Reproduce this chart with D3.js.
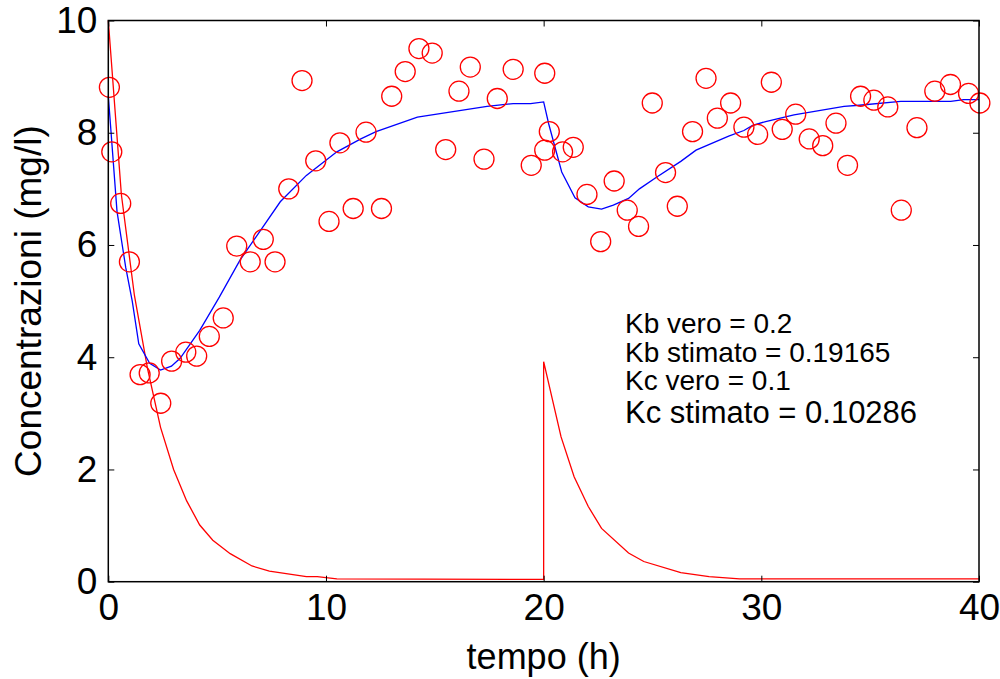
<!DOCTYPE html>
<html>
<head>
  <meta charset="UTF-8">
  <title>Concentrazioni</title>
  <script src="https://cdnjs.cloudflare.com/ajax/libs/d3/7.8.5/d3.min.js"></script>
  <style>
    body { margin: 0; background: #fff; }
    text { font-family: "Liberation Sans", Arial, sans-serif; }
  </style>
</head>
<body>
<script>
  // osservazioni (tempo h, concentrazione mg/l)
  var obsTime = [0.05, 0.16, 0.57, 0.97, 1.46, 1.88, 2.41, 2.91, 3.56, 4.06, 4.64, 5.28, 5.90, 6.52, 7.12, 7.66,
    8.29, 8.90, 9.53, 10.14, 10.64, 11.25, 11.84, 12.55, 13.02, 13.64, 14.27, 14.88, 15.50, 16.11, 16.63, 17.26,
    17.87, 18.60, 19.43, 20.05, 20.05, 20.26, 20.87, 21.36, 21.99, 22.62, 23.24, 23.84, 24.36, 24.99, 25.60, 26.14,
    26.84, 27.46, 27.98, 28.59, 29.20, 29.83, 30.46, 30.96, 31.58, 32.20, 32.82, 33.43, 33.96, 34.56, 35.17, 35.81,
    36.43, 37.15, 37.97, 38.69, 39.52, 40.04];
  var obsConc = [8.81, 7.66, 6.74, 5.70, 3.69, 3.72, 3.18, 3.93, 4.09, 4.02, 4.37, 4.70, 5.98, 5.70, 6.10, 5.70,
    7.00, 8.93, 7.50, 6.42, 7.82, 6.65, 8.01, 6.65, 8.65, 9.09, 9.50, 9.42, 7.70, 8.74, 9.17, 7.53,
    8.61, 9.13, 7.42, 9.06, 7.69, 8.02, 7.66, 7.74, 6.90, 6.06, 7.14, 6.62, 6.33, 8.53, 7.29, 6.69,
    8.02, 8.97, 8.26, 8.53, 8.10, 7.97, 8.90, 8.06, 8.33, 7.89, 7.77, 8.17, 7.42, 8.65, 8.58, 8.46,
    6.62, 8.09, 8.74, 8.86, 8.70, 8.53];

  // curva stimata (blu)
  var fitTime = [0, 0.4, 0.8, 1.1, 1.4, 1.9, 2.4, 2.9, 3.3, 4.2, 5.1, 6.05, 7.9, 9.1, 10.5, 11.6, 12.3, 14.2,
    17.4, 18.6, 19.4, 20, 20.23, 20.83, 21.44, 22.05, 22.66, 23.2, 23.9, 24.4, 25.2, 26.3, 27.0, 28.5, 29.2,
    29.6, 30.2, 31.5, 33.8, 34.5, 36.4, 38.7, 39.3, 40];
  var fitConc = [8.66, 6.6, 5.6, 5.0, 4.24, 3.89, 3.77, 3.84, 3.98, 4.48, 5.07, 5.73, 6.77, 7.24, 7.66, 7.89, 8.02, 8.28,
    8.47, 8.52, 8.52, 8.55, 8.16, 7.30, 6.84, 6.68, 6.64, 6.71, 6.83, 7.0, 7.21, 7.49, 7.69, 7.94, 8.04,
    8.13, 8.20, 8.32, 8.47, 8.49, 8.56, 8.56, 8.59, 8.59];

  // seconda curva (rossa)
  var redTime = [0, 0.6, 1.2, 1.8, 2.4, 3.0, 3.6, 4.2, 4.8, 5.6, 6.6, 7.4, 9.1, 9.6, 10.5, 20, 20, 20.8, 21.4,
    22.05, 22.66, 23.9, 24.6, 26.3, 27.6, 29, 40];
  var redConc = [10, 6.9, 5.1, 3.8, 2.75, 2.0, 1.44, 1.01, 0.74, 0.5, 0.28, 0.19, 0.09, 0.09, 0.05, 0.04, 3.92, 2.58, 1.87,
    1.34, 0.95, 0.51, 0.36, 0.16, 0.09, 0.05, 0.05];

  var xTicks = [0, 10, 20, 30, 40];
  var yTicks = [0, 2, 4, 6, 8, 10];
  var notes = ["Kb vero = 0.2", "Kb stimato = 0.19165", "Kc vero = 0.1", "Kc stimato = 0.10286"];

  var W = 1000, H = 679;
  var L = 108.3, R = 979, T = 20.5, B = 581.7;

  var svg = d3.select("body").append("svg")
    .attr("width", W).attr("height", H);

  var x = d3.scaleLinear().domain([0, 40]).range([L, R]);
  var y = d3.scaleLinear().domain([0, 10]).range([B, T]);

  function pts(ts, vs) { return ts.map(function(t, i) { return [t, vs[i]]; }); }
  var line = d3.line().x(function(d) { return x(d[0]); }).y(function(d) { return y(d[1]); });

  // curve
  svg.append("path").datum(pts(redTime, redConc))
    .attr("d", line).attr("fill", "none").attr("stroke", "#ff0000").attr("stroke-width", 1.3);
  svg.append("path").datum(pts(fitTime, fitConc))
    .attr("d", line).attr("fill", "none").attr("stroke", "#0000ff").attr("stroke-width", 1.3);

  svg.selectAll("circle.obs").data(pts(obsTime, obsConc)).enter().append("circle")
    .attr("class", "obs")
    .attr("cx", function(d) { return x(d[0]); })
    .attr("cy", function(d) { return y(d[1]); })
    .attr("r", 10)
    .attr("fill", "none").attr("stroke", "#ff0000").attr("stroke-width", 1.3);

  // assi
  var tk = 6;
  var gx = svg.append("g").attr("transform", "translate(0," + B + ")")
    .call(d3.axisBottom(x).tickValues(xTicks).tickSize(-tk).tickPadding(12).tickFormat(d3.format("d")));
  var gxt = svg.append("g").attr("transform", "translate(0," + T + ")")
    .call(d3.axisTop(x).tickValues(xTicks).tickSize(-tk).tickFormat(""));
  var gy = svg.append("g").attr("transform", "translate(" + L + ",0)")
    .call(d3.axisLeft(y).tickValues(yTicks).tickSize(-tk).tickPadding(11).tickFormat(d3.format("d")));
  var gyr = svg.append("g").attr("transform", "translate(" + R + ",0)")
    .call(d3.axisRight(y).tickValues(yTicks).tickSize(-tk).tickFormat(""));

  [gx, gxt, gy, gyr].forEach(function(g) {
    g.attr("font-size", null).attr("font-family", null);
    g.select(".domain").remove();
    g.selectAll("line").attr("stroke", "#000").attr("stroke-width", 1);
    g.selectAll("text").attr("fill", "#000").style("font-size", "37px");
  });
  gx.selectAll("text").attr("dy", "0.71em");

  svg.append("rect")
    .attr("x", L).attr("y", T).attr("width", R - L).attr("height", B - T)
    .attr("fill", "none").attr("stroke", "#000").attr("stroke-width", 1.5);

  svg.append("text")
    .attr("x", (L + R) / 2).attr("y", 669)
    .attr("text-anchor", "middle").style("font-size", "36px")
    .text("tempo (h)");

  svg.append("text")
    .attr("transform", "translate(41," + (B + T) / 2 + ") rotate(-90)")
    .attr("text-anchor", "middle").style("font-size", "37px")
    .text("Concentrazioni (mg/l)");

  var noteY = [333, 362, 390, 423];
  var noteSize = [28, 28, 28, 31];
  svg.selectAll("text.note").data(notes).enter().append("text")
    .attr("class", "note")
    .attr("x", 625)
    .attr("y", function(d, i) { return noteY[i]; })
    .style("font-size", function(d, i) { return noteSize[i] + "px"; })
    .text(function(d) { return d; });
</script>
</body>
</html>
